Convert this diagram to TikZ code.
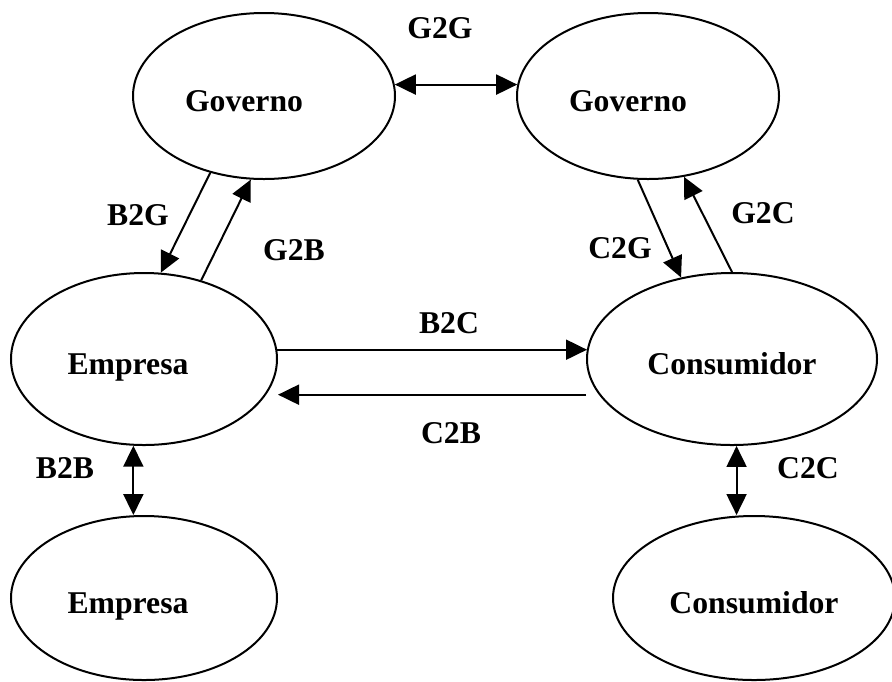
\documentclass[tikz,border=0pt]{standalone}
\usepackage{fontspec}
\setmainfont{Liberation Serif}
\usetikzlibrary{arrows.meta,shapes.geometric}
\tikzset{
  party/.style={draw, ellipse, line width=1pt, inner sep=0pt,
    text height=15pt, text depth=0pt,
    font=\bfseries\fontsize{15.85}{19}\selectfont},
  flow/.style={-{Triangle[length=10.5pt,width=10pt]}, line width=1pt},
  twoway/.style={{Triangle[length=10.5pt,width=10pt]}-{Triangle[length=10.5pt,width=10pt]}, line width=1pt},
  tag/.style={font=\bfseries\fontsize{15.85}{19}\selectfont, inner sep=0pt}
}

\begin{document}
\begin{tikzpicture}[x=0.5pt, y=-0.5pt]
  \useasboundingbox (0,0) rectangle (892,681);
  % the six parties
  \node[party, minimum width=131pt, minimum height=83pt] (gov1) at (264,96) {Governo\kern20pt};
  \node[party, minimum width=131pt, minimum height=83pt] (gov2) at (648,96) {Governo\kern20pt};
  \node[party, minimum width=133pt, minimum height=86pt] (emp1) at (144,359) {Empresa\kern16pt};
  \node[party, minimum width=145pt, minimum height=86pt] (con1) at (732,359) {Consumidor};
  \node[party, minimum width=133pt, minimum height=82pt] (emp2) at (144,598) {Empresa\kern16pt};
  \node[party, minimum width=141pt, minimum height=82pt] (con2) at (754,598) {Consumidor};
  % relations
  \draw[twoway] (gov1.5) -- (gov2.175 |- gov1.5);
  \draw[flow] (gov1.235) -- (emp1.79);
  \draw[flow] (emp1.54) -- (gov1.261);
  \draw[flow] (gov2.263) -- (con1.122);
  \draw[flow] (con1.90) -- (gov2.294);
  \draw[flow] (emp1.4) -- (con1.176 |- emp1.4);
  \draw[flow] (con1.west |- con1.195) -- (emp1.east |- con1.195);
  \draw[twoway] (emp1.263) -- (emp1.263 |- emp2.north);
  \draw[twoway] (con1.273) -- (con1.273 |- con2.north);
  % labels
  \node[tag] (g2g) at (440,28) {G2G};
  \node[tag] (b2g) at (138,215) {B2G};
  \node[tag] (g2b) at (294,250) {G2B};
  \node[tag] (c2g) at (620,248) {C2G};
  \node[tag] (g2c) at (763,213) {G2C};
  \node[tag] (b2c) at (449,323) {B2C};
  \node[tag] (c2b) at (451,433) {C2B};
  \node[tag] (b2b) at (65,468) {B2B};
  \node[tag] (c2c) at (808,468) {C2C};
\end{tikzpicture}
\end{document}
